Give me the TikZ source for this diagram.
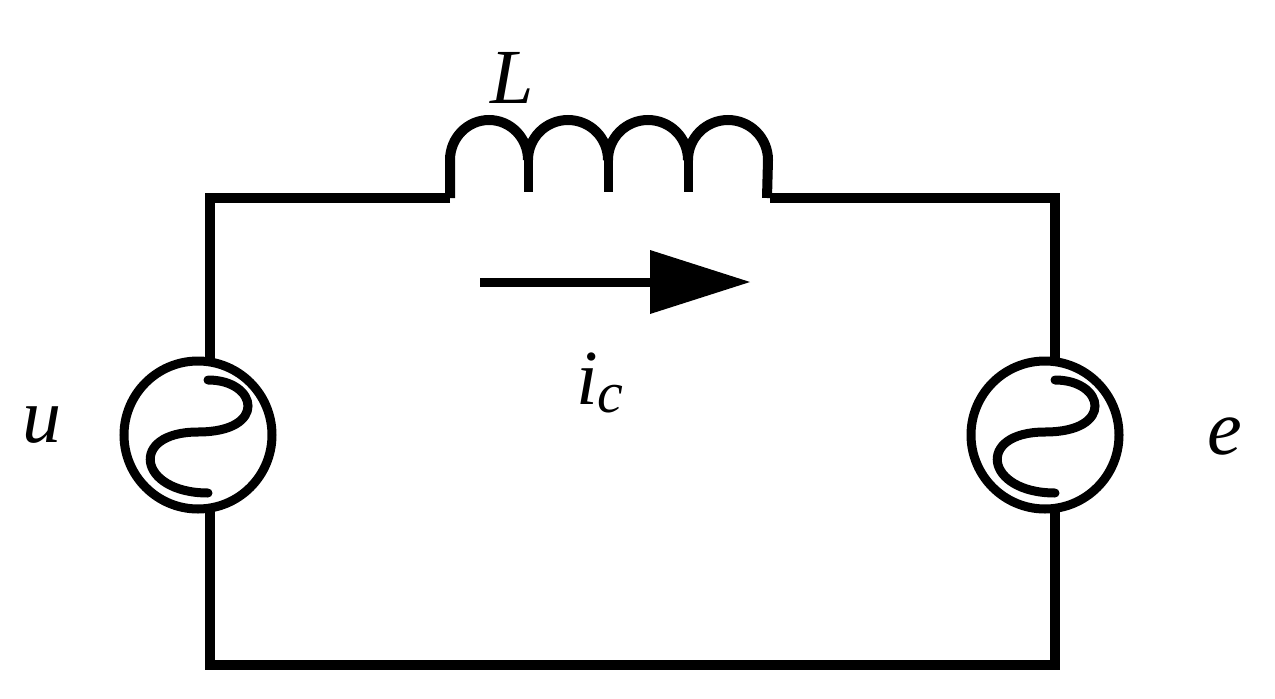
\documentclass[tikz,border=0pt]{standalone}
\usepackage{fontspec}
\setmainfont{Liberation Serif}
\begin{document}
\begin{tikzpicture}[x=1pt,y=-1pt,wire/.style={line width=10pt,line join=miter},
 lab/.style={font=\fontsize{78}{78}\selectfont\itshape,inner sep=0}]
\useasboundingbox (0,0) rectangle (1275,699);
\coordinate (ul) at (210,198); \coordinate (ur) at (1055,198);
\coordinate (ll) at (210,665); \coordinate (lr) at (1055,665);
\coordinate (la) at (450,198); \coordinate (lb) at (770,198);
\node[circle,draw,line width=9pt,minimum size=148pt,inner sep=0] (U) at (198,435) {};
\node[circle,draw,line width=9pt,minimum size=148pt,inner sep=0] (E) at (1045,435) {};
\draw[wire] (la) -- (ul) -- (210,360);
\draw[wire] (210,510) -- (ll) -- (lr) -- (1055,510);
\draw[wire] (1055,360) -- (ur) -- (lb);
\draw[wire] (la) -- (450,160) arc[start angle=180,end angle=360,x radius=39,y radius=40]
 arc[start angle=180,end angle=360,x radius=40,y radius=40]
 arc[start angle=180,end angle=360,x radius=40,y radius=40]
 arc[start angle=180,end angle=360,x radius=40,y radius=40] -- (767,198);
\draw[line width=9pt] (528,160)--(528,192) (608,160)--(608,192) (688,160)--(688,192);
\foreach \c/\n in {198/a,1045/b}{
 \draw[line width=9pt,line cap=round] (\c+10,380) .. controls (\c+60,380) and (\c+70,432) .. (\c,432)
   .. controls (\c-70,432) and (\c-60,493) .. (\c+10,493);}
\coordinate (a1) at (480,282); \coordinate (a2) at (750,282);
\draw[line width=9pt] (a1) -- (655,282);
\fill (650,250) -- (a2) -- (650,314) -- cycle;
\node[lab] (tL) at (512,78) {L};
\node[lab] (ti) at (600,383) {i\raisebox{-8pt}{\fontsize{58}{58}\selectfont c}};
\node[lab] (tu) at (42,425) {u};
\node[lab] (te) at (1225,436) {e};
\end{tikzpicture}
\end{document}
